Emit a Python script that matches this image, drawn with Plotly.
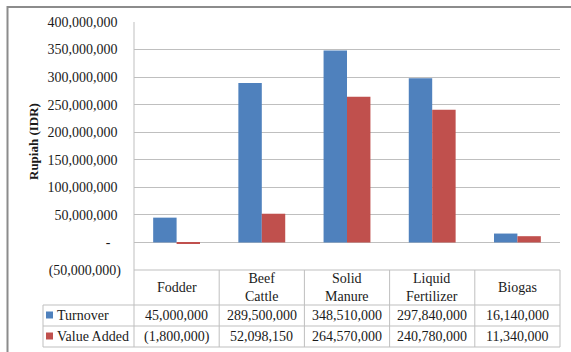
import plotly.graph_objects as go

# Revenue breakdown per business unit (Rupiah)
categories = ["Fodder", "Beef<br>Cattle", "Solid<br>Manure", "Liquid<br>Fertilizer", "Biogas"]
turnover = [45000000, 289500000, 348510000, 297840000, 16140000]
value_added = [-1800000, 52098150, 264570000, 240780000, 11340000]
series_names = ["Turnover", "Value Added"]
y_ticks = list(range(-50000000, 400000001, 50000000))

BLUE = "#4F81BD"
RED = "#C0504D"
GRID = "#BFBFBF"
FONT = "Times New Roman, Liberation Serif, DejaVu Serif, serif"
TXT = "#1a1a1a"

W, H = 571, 352
L, R, T, B = 134, 11, 22, 82          # plot area: x 134..560, y 22..270
PW, PH = W - L - R, H - T - B


def px_x(px):
    return (px - L) / PW


def px_y(py):
    return (H - B - py) / PH


def acct(v):
    if v < 0:
        return "({:,})".format(-v)
    if v == 0:
        return "-\u00a0\u00a0\u00a0"
    return "{:,}".format(v) + "\u00a0"


xs = list(range(len(categories)))
fig = go.Figure()
fig.add_bar(x=xs, y=turnover, name=series_names[0], marker_color=BLUE,
            marker_line_width=0)
fig.add_bar(x=xs, y=value_added, name=series_names[1], marker_color=RED,
            marker_line_width=0)

fig.update_layout(
    width=W, height=H,
    margin=dict(l=L, r=R, t=T, b=B),
    paper_bgcolor="white", plot_bgcolor="white",
    barmode="group", bargap=0.45, bargroupgap=0,
    showlegend=False,
    font=dict(family=FONT, size=14, color=TXT),
)
fig.update_xaxes(range=[-0.5, len(categories) - 0.5], showticklabels=False,
                 showgrid=False, zeroline=False, showline=False, fixedrange=True)
fig.update_yaxes(range=[y_ticks[0], y_ticks[-1]], tickvals=y_ticks,
                 ticktext=[acct(v) for v in y_ticks], ticks="",
                 ticklabelstandoff=12,
                 tickfont=dict(family=FONT, size=14, color=TXT),
                 showgrid=True, gridcolor=GRID, gridwidth=1,
                 zeroline=False, showline=False, fixedrange=True)

shapes = []


def hline(x0, x1, py, color=GRID, w=1):
    shapes.append(dict(type="line", xref="paper", yref="paper",
                       x0=px_x(x0), x1=px_x(x1), y0=px_y(py), y1=px_y(py),
                       line=dict(color=color, width=w)))


def vline(px, y0, y1, color=GRID, w=1):
    shapes.append(dict(type="line", xref="paper", yref="paper",
                       x0=px_x(px), x1=px_x(px), y0=px_y(y0), y1=px_y(y1),
                       line=dict(color=color, width=w)))


# data table grid under the plot
ROW_TOP, ROW1, ROW2, ROW_BOT = 270, 305, 326, 347
LEG_LEFT = 43
vline(L, T, ROW_BOT)
for k in range(1, len(categories) + 1):
    shapes.append(dict(type="line", xref="paper", yref="paper",
                       x0=k / len(categories), x1=k / len(categories),
                       y0=px_y(ROW_TOP), y1=px_y(ROW_BOT),
                       line=dict(color=GRID, width=1)))
hline(L, W - R, ROW_TOP)
for py in (ROW1, ROW2, ROW_BOT):
    hline(LEG_LEFT, W - R, py)
vline(LEG_LEFT, ROW1, ROW_BOT)

# chart frame
shapes.append(dict(type="rect", xref="paper", yref="paper",
                   x0=px_x(7.5), x1=px_x(590), y0=px_y(7), y1=px_y(370),
                   line=dict(color="#8C8C8C", width=2), fillcolor="rgba(0,0,0,0)"))

annotations = []
# category row
for i, c in enumerate(categories):
    annotations.append(dict(xref="paper", yref="paper",
                            x=(i + 0.5) / len(categories), y=px_y((ROW_TOP + ROW1) / 2),
                            text=c, showarrow=False, xanchor="center", yanchor="middle",
                            font=dict(family=FONT, size=14, color=TXT)))

rows = [(turnover, BLUE, (ROW1 + ROW2) / 2), (value_added, RED, (ROW2 + ROW_BOT) / 2)]
for name, (vals, col, yc) in zip(series_names, rows):
    # legend key
    shapes.append(dict(type="rect", xref="paper", yref="paper",
                       x0=px_x(46), x1=px_x(53), y0=px_y(yc - 4), y1=px_y(yc + 3),
                       line=dict(width=0), fillcolor=col))
    annotations.append(dict(xref="paper", yref="paper", x=px_x(55), y=px_y(yc),
                            text=name, showarrow=False, xanchor="left", yanchor="middle",
                            font=dict(family=FONT, size=14, color=TXT)))
    for i, v in enumerate(vals):
        txt = "({:,})".format(-v) if v < 0 else "{:,}".format(v)
        annotations.append(dict(xref="paper", yref="paper",
                                x=(i + 0.5) / len(categories), y=px_y(yc),
                                text=txt, showarrow=False, xanchor="center",
                                yanchor="middle",
                                font=dict(family=FONT, size=14, color=TXT)))

# y-axis title
annotations.append(dict(xref="paper", yref="paper", x=px_x(33), y=px_y(142),
                        text="<b>Rupiah (IDR)</b>", textangle=-90, showarrow=False,
                        xanchor="center", yanchor="middle",
                        font=dict(family=FONT, size=13, color=TXT)))

fig.update_layout(shapes=shapes, annotations=annotations)
fig.write_html("out.html")
